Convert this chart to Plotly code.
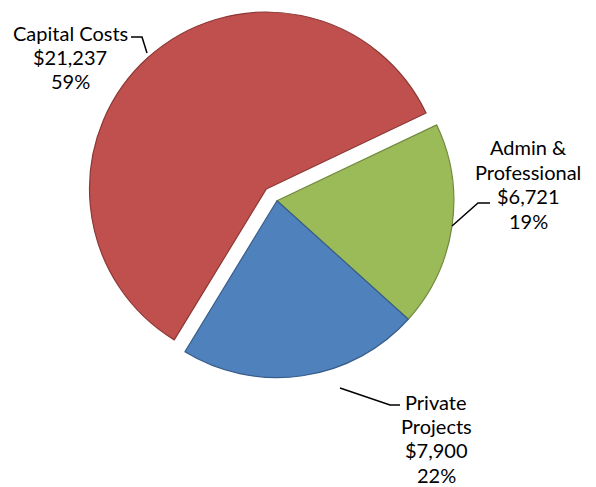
import plotly.graph_objects as go

OFF = 8  # page body margin offset in the browser
W, H = 596 - OFF, 487 - OFF

# Data
categories = ["Admin &<br>Professional", "Private<br>Projects", "Capital Costs"]
values = [6721, 7900, 21237]
percents = ["19%", "22%", "59%"]
label_lines = [
    ["Admin &", "Professional", "$6,721", "19%"],
    ["Private", "Projects", "$7,900", "22%"],
    ["Capital Costs", "$21,237", "59%"],
]
colors = ["#9BBB59", "#4F81BD", "#C0504D"]
borders = ["#71893F", "#385D8A", "#8C3836"]
pulls = [0, 0, 0.09]

def px(x):
    return (x - OFF) / W

def py(y):
    return 1 - (y - OFF) / H

fig = go.Figure(go.Pie(
    labels=categories,
    values=values,
    sort=False,
    direction="clockwise",
    rotation=64.6,
    pull=pulls,
    textinfo="none",
    marker=dict(colors=colors, line=dict(color=borders, width=1.2)),
    domain=dict(x=[px(83.5), px(470.5)], y=[py(393.5), 1.0]),
    showlegend=False,
))

# label text blocks: (center x, first-line y, line spacing)
label_pos = [(528, 147, 24.7), (436, 402, 24.2), (70, 33, 24)]
annotations = []
for lines, (cx, y0, dy) in zip(label_lines, label_pos):
    for i, t in enumerate(lines):
        annotations.append(dict(
            text=t, x=px(cx), y=py(y0 + i * dy), xref="paper", yref="paper",
            xanchor="center", yanchor="middle", showarrow=False,
            font=dict(family="Lato, Carlito, sans-serif", size=20, color="#000000"),
        ))

# leader lines
leaders = [
    [(490, 203), (478, 203), (452, 226)],
    [(400, 405), (390, 405), (340, 388)],
    [(131, 37), (142, 37), (147, 53)],
]
shapes = []
for pts in leaders:
    path = "M " + " L ".join(f"{px(x)},{py(y)}" for x, y in pts)
    shapes.append(dict(type="path", path=path, xref="paper", yref="paper",
                       line=dict(color="#000000", width=1.5)))

fig.update_layout(
    width=W, height=H,
    margin=dict(l=0, r=0, t=0, b=0),
    paper_bgcolor="white",
    plot_bgcolor="white",
    annotations=annotations,
    shapes=shapes,
)

fig.write_html("out.html")
